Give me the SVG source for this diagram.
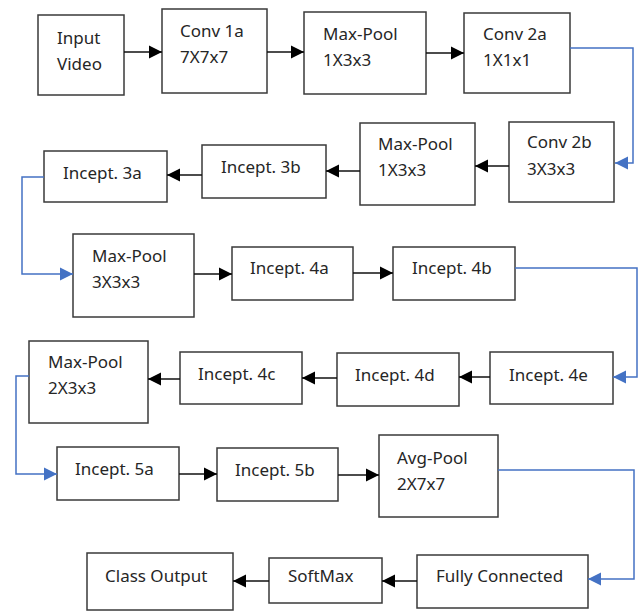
<svg xmlns="http://www.w3.org/2000/svg" width="639" height="611" viewBox="0 0 639 611">
<style>
.box{fill:#fff;stroke:#3a3a3a;stroke-width:1.5}
.t{font-family:"Noto Sans","Open Sans",sans-serif;font-size:17px;fill:#262626}
.k{fill:none;stroke:#111;stroke-width:1.5}
.b{fill:none;stroke:#4472c4;stroke-width:1.5}
</style>
<defs>
<marker id="ak" markerUnits="userSpaceOnUse" markerWidth="14" markerHeight="14" refX="13" refY="7" orient="auto"><path d="M0,0.5 L13,7 L0,13.5 Z" fill="#000"/></marker>
<marker id="ab" markerUnits="userSpaceOnUse" markerWidth="14" markerHeight="14" refX="13" refY="7" orient="auto"><path d="M0,0.5 L13,7 L0,13.5 Z" fill="#4472c4"/></marker>
</defs>
<rect width="639" height="611" fill="#fff"/>
<g id="input"><rect class="box" x="38" y="15" width="86" height="80"/><text class="t" x="57" y="44">Input</text><text class="t" x="57" y="70">Video</text></g>
<g id="conv1a"><rect class="box" x="162" y="9" width="105" height="84"/><text class="t" x="180" y="37">Conv 1a</text><text class="t" x="180" y="63">7X7x7</text></g>
<g id="maxpool1"><rect class="box" x="304" y="12" width="122" height="82"/><text class="t" x="323" y="40">Max-Pool</text><text class="t" x="323" y="66">1X3x3</text></g>
<g id="conv2a"><rect class="box" x="464" y="13" width="106" height="80"/><text class="t" x="483" y="40">Conv 2a</text><text class="t" x="483" y="66">1X1x1</text></g>
<g id="conv2b"><rect class="box" x="509" y="122" width="105" height="80"/><text class="t" x="527" y="148">Conv 2b</text><text class="t" x="527" y="175">3X3x3</text></g>
<g id="maxpool2"><rect class="box" x="360" y="123" width="115" height="82"/><text class="t" x="378" y="150">Max-Pool</text><text class="t" x="378" y="176">1X3x3</text></g>
<g id="incept3b"><rect class="box" x="202" y="145" width="124" height="53"/><text class="t" x="221" y="173">Incept. 3b</text></g>
<g id="incept3a"><rect class="box" x="44" y="151" width="123" height="51"/><text class="t" x="63" y="179">Incept. 3a</text></g>
<g id="maxpool3"><rect class="box" x="73" y="234" width="121" height="83"/><text class="t" x="92" y="262">Max-Pool</text><text class="t" x="92" y="288">3X3x3</text></g>
<g id="incept4a"><rect class="box" x="232" y="247" width="121" height="53"/><text class="t" x="250" y="274">Incept. 4a</text></g>
<g id="incept4b"><rect class="box" x="393" y="247" width="122" height="53"/><text class="t" x="412" y="274">Incept. 4b</text></g>
<g id="incept4e"><rect class="box" x="490" y="352" width="123" height="52"/><text class="t" x="509" y="381">Incept. 4e</text></g>
<g id="incept4d"><rect class="box" x="337" y="353" width="122" height="53"/><text class="t" x="355" y="381">Incept. 4d</text></g>
<g id="incept4c"><rect class="box" x="180" y="352" width="122" height="52"/><text class="t" x="198" y="380">Incept. 4c</text></g>
<g id="maxpool4"><rect class="box" x="29" y="341" width="119" height="82"/><text class="t" x="48" y="368">Max-Pool</text><text class="t" x="48" y="394">2X3x3</text></g>
<g id="incept5a"><rect class="box" x="57" y="447" width="122" height="53"/><text class="t" x="75" y="475">Incept. 5a</text></g>
<g id="incept5b"><rect class="box" x="217" y="448" width="121" height="53"/><text class="t" x="235" y="476">Incept. 5b</text></g>
<g id="avgpool"><rect class="box" x="379" y="435" width="119" height="82"/><text class="t" x="397" y="464">Avg-Pool</text><text class="t" x="397" y="490">2X7x7</text></g>
<g id="fc"><rect class="box" x="417" y="555" width="171" height="53"/><text class="t" x="436" y="582">Fully Connected</text></g>
<g id="softmax"><rect class="box" x="269" y="558" width="113" height="45"/><text class="t" x="288" y="582">SoftMax</text></g>
<g id="classout"><rect class="box" x="87" y="553" width="146" height="57"/><text class="t" x="105" y="582">Class Output</text></g>
<g id="connectors">
<path class="k" marker-end="url(#ak)" d="M124,52 H162"/>
<path class="k" marker-end="url(#ak)" d="M267,52 H304"/>
<path class="k" marker-end="url(#ak)" d="M426,53 H464"/>
<path class="b" marker-end="url(#ab)" d="M570,48 H633 V163 H615"/>
<path class="k" marker-end="url(#ak)" d="M509,166 H475"/>
<path class="k" marker-end="url(#ak)" d="M360,171 H326"/>
<path class="k" marker-end="url(#ak)" d="M202,175 H167"/>
<path class="b" marker-end="url(#ab)" d="M44,177 H22 V274 H73"/>
<path class="k" marker-end="url(#ak)" d="M194,274 H232"/>
<path class="k" marker-end="url(#ak)" d="M353,273 H393"/>
<path class="b" marker-end="url(#ab)" d="M515,268 H637 V377 H613"/>
<path class="k" marker-end="url(#ak)" d="M490,377 H459"/>
<path class="k" marker-end="url(#ak)" d="M337,378 H302"/>
<path class="k" marker-end="url(#ak)" d="M180,379 H148"/>
<path class="b" marker-end="url(#ab)" d="M29,376 H16 V474 H57"/>
<path class="k" marker-end="url(#ak)" d="M179,474 H217"/>
<path class="k" marker-end="url(#ak)" d="M338,475 H379"/>
<path class="b" marker-end="url(#ab)" d="M498,470 H634 V579 H588"/>
<path class="k" marker-end="url(#ak)" d="M417,581 H382"/>
<path class="k" marker-end="url(#ak)" d="M269,581 H233"/>
</g>
</svg>
